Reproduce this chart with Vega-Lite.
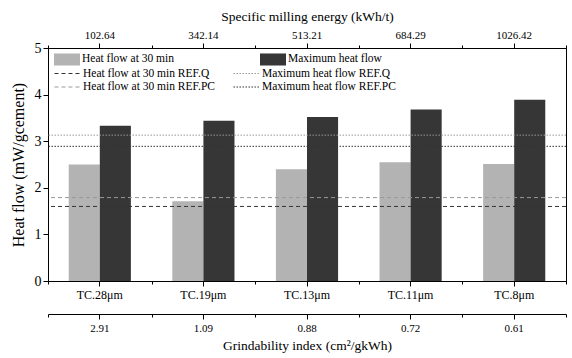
{
  "$schema": "https://vega.github.io/schema/vega-lite/v6.json",
  "autosize": {"type": "none"},
  "padding": {"left": 48, "top": 48, "right": 6, "bottom": 77},
  "width": 518,
  "height": 233,
  "config": {
    "font": "'Liberation Serif', 'Times New Roman', serif",
    "view": {"stroke": "black", "strokeWidth": 1},
    "axis": {"domainColor": "black", "tickColor": "black", "labelColor": "black", "titleColor": "black", "grid": false, "titleFontWeight": "normal", "labelFont": "'Liberation Serif', 'Times New Roman', serif", "titleFont": "'Liberation Serif', 'Times New Roman', serif"},
    "legend": {"labelFont": "'Liberation Serif', 'Times New Roman', serif", "labelColor": "black", "padding": 0}
  },
  "datasets": {
    "bars": [
      {"cat": "TC.28μm", "energy": "102.64", "grind": "2.91", "series": "Heat flow at 30 min", "value": 2.5},
      {"cat": "TC.28μm", "energy": "102.64", "grind": "2.91", "series": "Maximum heat flow", "value": 3.33},
      {"cat": "TC.19μm", "energy": "342.14", "grind": "1.09", "series": "Heat flow at 30 min", "value": 1.71},
      {"cat": "TC.19μm", "energy": "342.14", "grind": "1.09", "series": "Maximum heat flow", "value": 3.44},
      {"cat": "TC.13μm", "energy": "513.21", "grind": "0.88", "series": "Heat flow at 30 min", "value": 2.4},
      {"cat": "TC.13μm", "energy": "513.21", "grind": "0.88", "series": "Maximum heat flow", "value": 3.52},
      {"cat": "TC.11μm", "energy": "684.29", "grind": "0.72", "series": "Heat flow at 30 min", "value": 2.55},
      {"cat": "TC.11μm", "energy": "684.29", "grind": "0.72", "series": "Maximum heat flow", "value": 3.68},
      {"cat": "TC.8μm", "energy": "1026.42", "grind": "0.61", "series": "Heat flow at 30 min", "value": 2.51},
      {"cat": "TC.8μm", "energy": "1026.42", "grind": "0.61", "series": "Maximum heat flow", "value": 3.89}
    ],
    "refs": [
      {"name": "Heat flow at 30 min REF.Q", "value": 1.6},
      {"name": "Maximum heat flow REF.Q", "value": 3.13},
      {"name": "Heat flow at 30 min REF.PC", "value": 1.79},
      {"name": "Maximum heat flow REF.PC", "value": 2.89}
    ]
  },
  "resolve": {"scale": {"x": "independent"}, "axis": {"x": "independent"}},
  "layer": [
    {
      "data": {"name": "bars"},
      "mark": {"type": "bar"},
      "encoding": {
        "x": {"field": "cat", "type": "nominal", "sort": null,
          "scale": {"paddingInner": 0.4, "paddingOuter": 0.2},
          "axis": {"orient": "bottom", "title": null, "labelAngle": 0, "labelFontSize": 12, "tickSize": 5, "labelPadding": 3}},
        "xOffset": {"field": "series", "type": "nominal", "scale": {"paddingInner": 0, "paddingOuter": 0}},
        "y": {"field": "value", "type": "quantitative",
          "scale": {"domain": [0, 5], "nice": false},
          "axis": {"title": "Heat flow (mW/gcement)", "titleFontSize": 16, "labelFontSize": 14, "titlePadding": 8,
            "values": [0, 0.5, 1, 1.5, 2, 2.5, 3, 3.5, 4, 4.5, 5],
            "labelExpr": "datum.value % 1 ? '' : datum.label",
            "tickSize": {"condition": {"test": "datum.value % 1 !== 0", "value": 3}, "value": 5},
            "labelPadding": 2}},
        "color": {"field": "series", "type": "nominal",
          "scale": {"domain": ["Heat flow at 30 min", "Maximum heat flow"], "range": ["#b3b3b3", "#363636"]},
          "legend": {"orient": "none", "legendX": 12, "legendY": 4, "columns": 2, "columnPadding": 85, "title": null,
            "symbolType": "M-1.86,-0.86H1.86V0.86H-1.86Z", "symbolSize": 196, "symbolStrokeWidth": 0,
            "labelFontSize": 11.5, "labelOffset": 8, "rowPadding": 0.5}}
      }
    },
    {
      "data": {"name": "bars"},
      "mark": {"type": "bar", "opacity": 0},
      "encoding": {
        "x": {"field": "cat", "type": "nominal", "sort": null,
          "scale": {"paddingInner": 0, "paddingOuter": 0},
          "axis": {"orient": "bottom", "title": null, "labels": false, "domain": false, "tickBand": "extent", "tickSize": 3}}
      }
    },
    {
      "data": {"name": "bars"},
      "mark": {"type": "bar", "opacity": 0},
      "encoding": {
        "x": {"field": "energy", "type": "nominal", "sort": null,
          "scale": {"paddingInner": 0, "paddingOuter": 0},
          "axis": {"orient": "top", "title": "Specific milling energy (kWh/t)", "titleFontSize": 13.5, "labelFontSize": 11, "labelAngle": 0, "tickSize": 5, "labelPadding": 3, "titlePadding": 6}}
      }
    },
    {
      "data": {"name": "bars"},
      "mark": {"type": "bar", "opacity": 0},
      "encoding": {
        "x": {"field": "energy", "type": "nominal", "sort": null,
          "scale": {"paddingInner": 0, "paddingOuter": 0},
          "axis": {"orient": "top", "title": null, "labels": false, "domain": false, "tickBand": "extent", "tickSize": 3}}
      }
    },
    {
      "data": {"name": "bars"},
      "mark": {"type": "bar", "opacity": 0},
      "encoding": {
        "x": {"field": "grind", "type": "nominal", "sort": null,
          "scale": {"paddingInner": 0, "paddingOuter": 0},
          "axis": {"orient": "bottom", "offset": 33, "title": "Grindability index (cm²/gkWh)", "titleFontSize": 13.5, "labelFontSize": 11, "labelAngle": 0, "tickSize": 5, "labelPadding": 3, "titlePadding": 5}}
      }
    },
    {
      "data": {"name": "bars"},
      "mark": {"type": "bar", "opacity": 0},
      "encoding": {
        "x": {"field": "grind", "type": "nominal", "sort": null,
          "scale": {"paddingInner": 0, "paddingOuter": 0},
          "axis": {"orient": "bottom", "offset": 33, "title": null, "labels": false, "domain": false, "tickBand": "extent", "tickSize": 3}}
      }
    },
    {
      "data": {"name": "refs"},
      "mark": {"type": "rule", "strokeWidth": 1},
      "encoding": {
        "y": {"field": "value", "type": "quantitative"},
        "stroke": {"field": "name", "type": "nominal",
          "scale": {"domain": ["Heat flow at 30 min REF.Q", "Heat flow at 30 min REF.PC", "Maximum heat flow REF.Q", "Maximum heat flow REF.PC"],
            "range": ["#333333", "#999999", "#999999", "#333333"]},
          "legend": {"orient": "none", "legendX": 12, "legendY": 18, "columns": 2, "columnPadding": 16, "title": null,
            "symbolType": "M-1.86,0H1.86", "symbolSize": 196, "symbolStrokeWidth": 1,
            "labelFontSize": 11.5, "labelOffset": 8, "rowPadding": 0.5}},
        "strokeDash": {"field": "name", "type": "nominal",
          "scale": {"domain": ["Heat flow at 30 min REF.Q", "Heat flow at 30 min REF.PC", "Maximum heat flow REF.Q", "Maximum heat flow REF.PC"],
            "range": [[4, 3], [4, 3], [1.5, 1.5], [1.5, 1.5]]},
          "legend": {"orient": "none", "legendX": 12, "legendY": 18, "columns": 2, "columnPadding": 16, "title": null,
            "symbolType": "M-1.86,0H1.86", "symbolSize": 196, "symbolStrokeWidth": 1,
            "labelFontSize": 11.5, "labelOffset": 8, "rowPadding": 0.5}}
      }
    }
  ]
}
